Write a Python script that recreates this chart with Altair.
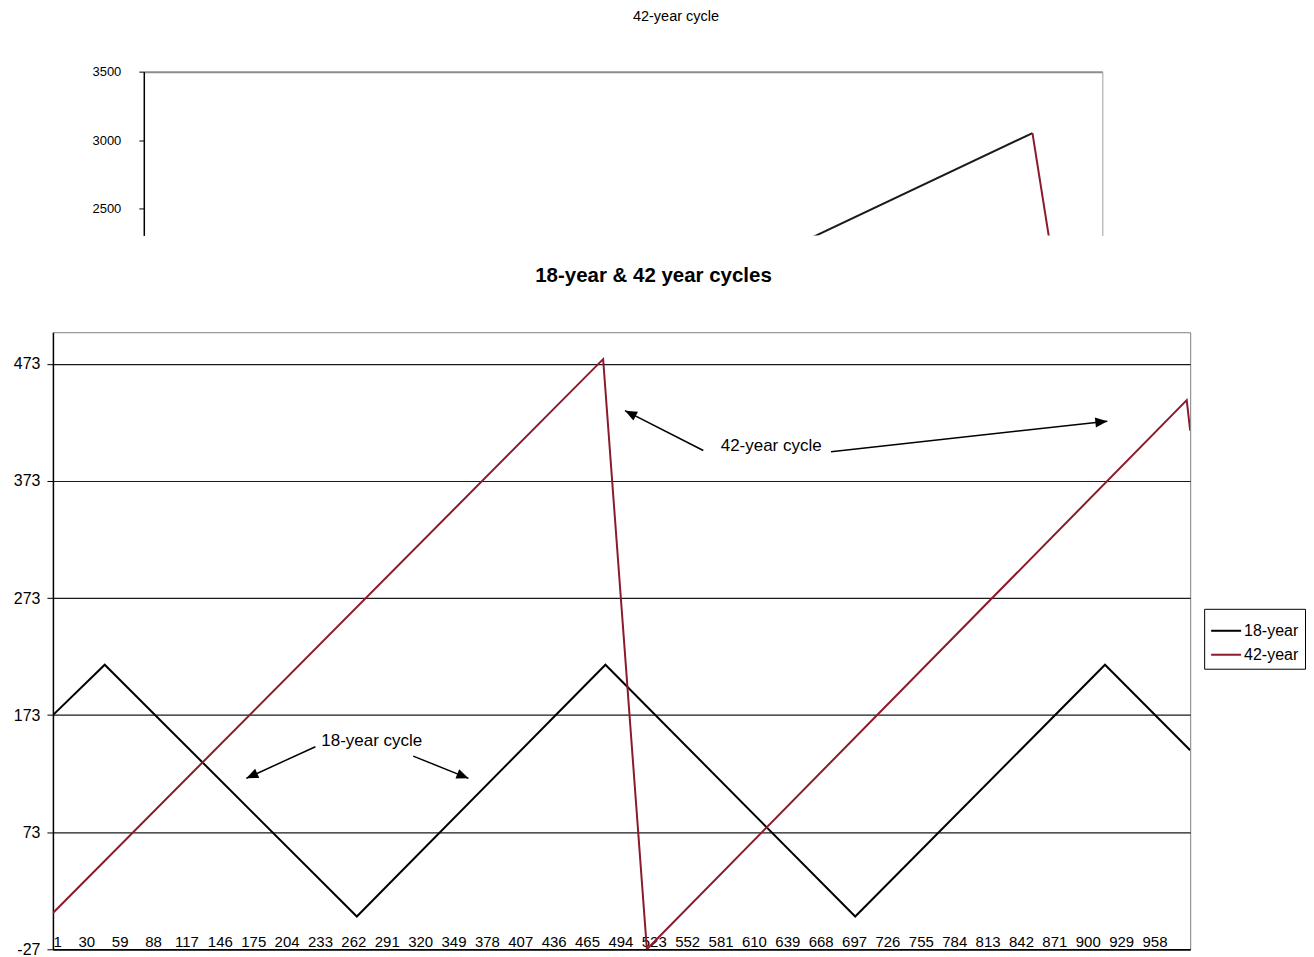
import math
import altair as alt
import pandas as pd

FONT = "Liberation Sans"

# ---- main chart data: month index / value ----
series_names = ["18-year", "42-year"]
x18 = [1, 46, 265, 481, 698, 915, 989]
v18 = [173, 216, 1, 216, 1, 216, 143]
x42 = [1, 479, 517, 986, 989]
v42 = [4, 477, -27, 442, 416]
x_ticks = [1, 30, 59, 88, 117, 146, 175, 204, 233, 262, 291, 320, 349, 378,
           407, 436, 465, 494, 523, 552, 581, 610, 639, 668, 697, 726, 755,
           784, 813, 842, 871, 900, 929, 958]
y_ticks = [-27, 73, 173, 273, 373, 473]
x_domain = [1, 989]
y_domain = [-27, 500]

# annotations (data coordinates)
ann_text = ["42-year cycle", "18-year cycle"]
ann_x = [625, 278]
ann_y = [403, 151]
arrow_x1 = [566, 677, 229, 314]
arrow_y1 = [399, 398, 146, 138]
arrow_x2 = [498, 917, 169, 362]
arrow_y2 = [433, 424, 119, 119]

# ---- top (cropped) chart data ----
top_x = [680, 917, 917, 936]
top_v = [2255, 3051, 3051, 2200]
top_seg = ["rise", "rise", "fall", "fall"]
top_ticks = [2500, 3000, 3500]
top_domain_y = [2303, 3500]

MAIN_W, MAIN_H = 1139, 618
TOP_W, TOP_H = 960, 164
MAROON = "#8b1a2b"

# ---------- main chart ----------
lines_df = pd.DataFrame({
    "x": x18 + x42,
    "v": v18 + v42,
    "series": [series_names[0]] * len(x18) + [series_names[1]] * len(x42),
})

kx = MAIN_W / (x_domain[1] - x_domain[0])
ky = MAIN_H / (y_domain[1] - y_domain[0])
angles = []
for a, b, c, d in zip(arrow_x1, arrow_y1, arrow_x2, arrow_y2):
    dx = (c - a) * kx
    dy = -(d - b) * ky
    angles.append(math.degrees(math.atan2(dx, -dy)) % 360)

arrows_df = pd.DataFrame({"x": arrow_x1, "v": arrow_y1, "x2": arrow_x2,
                          "v2": arrow_y2, "ang": angles})
ann_df = pd.DataFrame({"x": ann_x, "v": ann_y, "t": ann_text})

xs = alt.Scale(domain=x_domain, nice=False, zero=False)
ys = alt.Scale(domain=y_domain, nice=False, zero=False)

x_axis = alt.Axis(
    values=x_ticks, grid=False, ticks=False, domainColor="black",
    domainWidth=1.5, labelFontSize=15, labelFont=FONT, labelColor="black",
    labelPadding=-3, labelBaseline="alphabetic", labelOverlap=False,
    labelAngle=0, title=None, labelExpr="'' + datum.value")
y_axis = alt.Axis(
    values=y_ticks, grid=True, gridColor="#1a1a1a", gridWidth=1.2,
    domainColor="black", domainWidth=1.5, tickColor="black", tickSize=6,
    labelFontSize=16, labelFont=FONT, labelColor="black", labelPadding=7,
    title=None, minExtent=44, maxExtent=44, labelExpr="'' + datum.value")

X = alt.X("x:Q", scale=xs, axis=x_axis, title=None)
Y = alt.Y("v:Q", scale=ys, axis=y_axis, title=None)

lines = alt.Chart(lines_df).mark_line(strokeWidth=2, clip=True).encode(
    x=X, y=Y,
    color=alt.Color("series:N", scale=alt.Scale(domain=series_names,
                                                range=["#000000", MAROON]),
                    legend=alt.Legend(
                        orient="none", legendX=1153, legendY=277, title=None,
                        strokeColor="black", fillColor="white", padding=6,
                        symbolType="stroke", symbolSize=900,
                        symbolStrokeWidth=2, labelFontSize=16, labelFont=FONT,
                        labelColor="black", labelOffset=2, rowPadding=0)),
)

rules = alt.Chart(arrows_df).mark_rule(color="black", strokeWidth=1.5).encode(
    x=X, y=Y, x2="x2:Q", y2="v2:Q",
)

heads = alt.Chart(arrows_df).mark_point(
    shape="M0,0L0.5,1.2L-0.5,1.2Z", filled=True, color="black", opacity=1,
    size=400, strokeWidth=0).encode(
    x=alt.X("x2:Q", scale=xs, axis=x_axis, title=None),
    y=alt.Y("v2:Q", scale=ys, axis=y_axis, title=None),
    angle=alt.Angle("ang:Q", scale=None),
)

texts = alt.Chart(ann_df).mark_text(fontSize=17, font=FONT, color="black").encode(
    x=X, y=Y, text="t:N",
)

main = alt.layer(lines, rules, heads, texts).properties(
    width=MAIN_W, height=MAIN_H,
    title=alt.TitleParams("18-year & 42 year cycles", fontSize=20.5,
                          fontWeight="bold", font=FONT, color="black",
                          dx=32, offset=46),
    view=alt.ViewBackground(stroke="#808080", strokeWidth=1),
)

# ---------- top cropped chart ----------
top_df = pd.DataFrame({"tx": top_x, "tv": top_v, "seg": top_seg})
txs = alt.Scale(domain=x_domain, nice=False, zero=False)
tys = alt.Scale(domain=top_domain_y, nice=False, zero=False)

top_x_axis = alt.Axis(
    orient="top", labels=False, ticks=False, grid=False, title=None,
    domainColor="#8c8c8c", domainWidth=2)

top_line = alt.Chart(top_df).mark_line(strokeWidth=2, clip=True).encode(
    x=alt.X("tx:Q", scale=txs, axis=top_x_axis),
    y=alt.Y("tv:Q", scale=tys, axis=alt.Axis(
        orient="left", values=top_ticks, grid=False, domainColor="black",
        domainWidth=1.5, tickColor="black", tickSize=5, labelFontSize=13,
        labelFont=FONT, labelColor="black", labelPadding=18, title=None,
        minExtent=56, maxExtent=56, labelExpr="'' + datum.value")),
    color=alt.Color("seg:N", scale=alt.Scale(domain=["rise", "fall"],
                                             range=["#1a1a1a", MAROON]),
                    legend=None),
)

top_right = alt.Chart(top_df).mark_line(opacity=0).encode(
    x=alt.X("tx:Q", scale=txs, axis=top_x_axis),
    y=alt.Y("tv:Q", scale=tys, axis=alt.Axis(
        orient="right", labels=False, ticks=False, grid=False, title=None,
        domainColor="#a0a0a0", domainWidth=1, minExtent=0)),
)

top = alt.layer(top_line, top_right).resolve_axis(y="independent").properties(
    width=TOP_W, height=TOP_H,
    title=alt.TitleParams("42-year cycle", fontSize=14.5, font=FONT,
                          fontWeight="normal", color="black", dx=53,
                          offset=41),
    view=alt.ViewBackground(strokeWidth=0),
)

spacer_df = pd.DataFrame({"s": [0]})
spacer = alt.Chart(spacer_df).mark_point(opacity=0).encode(
    x=alt.X("s:Q", axis=None), y=alt.Y("s:Q", axis=None),
).properties(width=35, height=TOP_H, view=alt.ViewBackground(strokeWidth=0))

row1 = alt.hconcat(spacer, top, spacing=0).resolve_scale(
    x="independent", y="independent")
chart = alt.vconcat(row1, main, spacing=15).resolve_scale(
    x="independent", y="independent", color="independent"
).resolve_legend(color="independent").properties(
    padding=0
).configure(font=FONT, background="white")

chart.save("out.html", embed_options={"renderer": "svg", "actions": False})
